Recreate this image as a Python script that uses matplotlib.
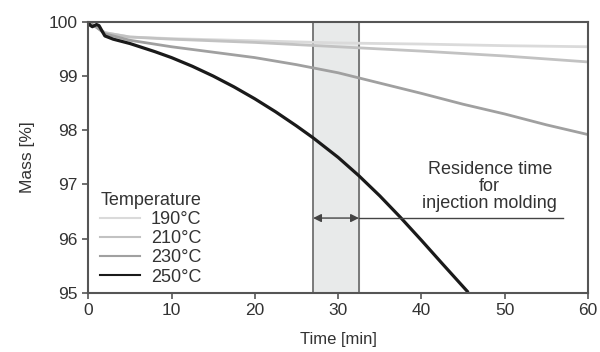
import numpy as np
import matplotlib
matplotlib.use('Agg')
from matplotlib import pyplot as plt

plt.rcParams['font.family'] = ['Liberation Sans', 'DejaVu Sans']

# data
t_190 = [0, 0.5, 1, 2, 5, 10, 20, 30, 40, 50, 60]
m_190 = [100, 99.95, 99.9, 99.8, 99.72, 99.69, 99.65, 99.61, 99.59, 99.56, 99.54]
t_210 = [0, 0.5, 1, 2, 5, 10, 20, 30, 40, 50, 60]
m_210 = [100, 99.95, 99.9, 99.8, 99.72, 99.68, 99.62, 99.54, 99.46, 99.37, 99.26]
t_230 = [0, 0.5, 1, 2, 5, 10, 15, 20, 25, 30, 35, 40, 45, 50, 55, 60]
m_230 = [100, 99.95, 99.9, 99.78, 99.66, 99.54, 99.44, 99.34, 99.21, 99.06, 98.87,
         98.68, 98.48, 98.3, 98.1, 97.92]
t_250 = [0, 0.2, 0.5, 1, 1.3, 1.7, 2, 3, 5, 8, 10, 12.5, 15, 17.5, 20, 22.5, 25, 27,
         30, 32.5, 35, 37.5, 40, 42.5, 45.5]
m_250 = [100, 99.94, 99.91, 99.95, 99.93, 99.82, 99.74, 99.68, 99.6, 99.45, 99.34,
         99.18, 99.0, 98.8, 98.58, 98.34, 98.08, 97.86, 97.5, 97.16, 96.79, 96.39,
         95.97, 95.54, 95.03]

labels = ['190°C', '210°C', '230°C', '250°C']
colors = ['#dadada', '#c2c2c2', '#a0a0a0', '#1a1a1a']
widths = [2, 2, 2, 2.3]
window = (27, 32.5)
arrow_y = 96.38

fig = plt.figure(figsize=(6, 3.52), dpi=100)
ax = fig.add_axes([0.147, 0.168, 0.833, 0.77])

ax.axvspan(window[0], window[1], color='#e8eaea', zorder=0)
for x in window:
    ax.axvline(x, color='#666666', lw=1.2, zorder=1)

series = [(t_190, m_190), (t_210, m_210), (t_230, m_230), (t_250, m_250)]
for (t, m), lab, c, w in zip(series, labels, colors, widths):
    ax.plot(t, m, color=c, lw=w, label=lab, zorder=2, solid_joinstyle='round')

# residence time annotation
ax.annotate('', xy=(window[0], arrow_y), xytext=(window[1], arrow_y),
            arrowprops=dict(arrowstyle='<|-|>', color='#444444', lw=1,
                            mutation_scale=12, shrinkA=0, shrinkB=0))
ax.plot([window[1], 57.0], [arrow_y, arrow_y], color='#444444', lw=1)
ax.text(48.2, 96.96, 'Residence time\nfor\ninjection molding', ha='center', va='center',
        fontsize=13, color='#333333', linespacing=1.0)

ax.set_xlim(0, 60)
ax.set_ylim(95, 100)
ax.set_xticks(range(0, 61, 10))
ax.set_yticks(range(95, 101))
ax.set_xlabel('Time [min]', fontsize=12, color='#333333', labelpad=10)
ax.set_ylabel('Mass [%]', fontsize=12.5, color='#333333', labelpad=10)
ax.tick_params(labelsize=12.5, colors='#555555', labelcolor='#333333', width=1.2, length=4)
for s in ax.spines.values():
    s.set_color('#555555')
    s.set_linewidth(1.5)

leg = ax.legend(title='Temperature', loc='lower left', bbox_to_anchor=(0.01, 0.0),
                frameon=False, fontsize=13, title_fontsize=13, handlelength=2.2,
                handletextpad=0.6, labelspacing=0.12, borderaxespad=0.1, borderpad=0.3)
leg._legend_box.align = 'left'
for txt in leg.get_texts():
    txt.set_color('#333333')
for h in leg.legend_handles:
    h.set_linewidth(1.5)
leg.get_title().set_color('#333333')

plt.savefig('out.png', dpi=100)
